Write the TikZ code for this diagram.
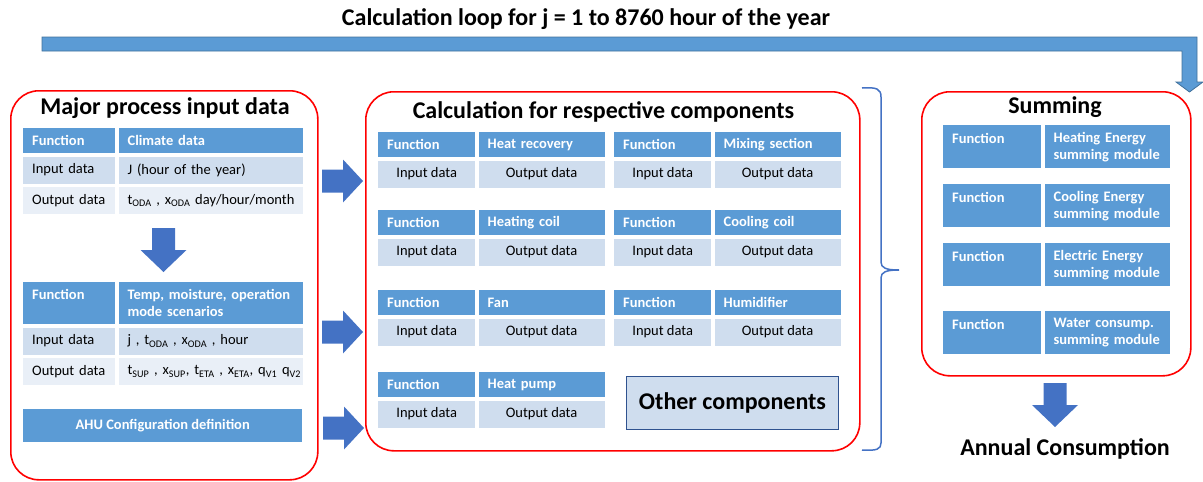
\documentclass[tikz,border=0pt]{standalone}
\usepackage{fontspec}
\setmainfont{Carlito}
\usetikzlibrary{positioning}
\hyphenpenalty=10000
\exhyphenpenalty=10000

\definecolor{hdrblue}{HTML}{5B9BD5}
\definecolor{bandone}{HTML}{CFDDEE}
\definecolor{bandtwo}{HTML}{E9EFF7}
\definecolor{arrowblue}{HTML}{4472C4}
\definecolor{loopedge}{HTML}{41719C}
\definecolor{otheredge}{HTML}{2F528F}

\tikzset{
  panel/.style={draw=red, line width=1.6pt, rounded corners=28pt, anchor=north west},
  paneltitle/.style={font=\bfseries\fontsize{24}{28}\selectfont, anchor=base},
  cellsize/.style 2 args={minimum width=#1pt, minimum height=#2pt, inner sep=0pt, anchor=north west},
  cellfont/.style={font=\fontsize{14.5}{17}\selectfont},
  hcell/.code 2 args={\pgfmathsetmacro\cellw{#1-18}%
    \tikzset{cellsize={#1}{#2}, fill=hdrblue, text=white, font=\bfseries\fontsize{14.5}{17}\selectfont,
      text width=\cellw pt, align=left, inner xsep=9pt}},
  lcell/.code 2 args={\pgfmathsetmacro\cellw{#1-18}%
    \tikzset{cellsize={#1}{#2}, cellfont, text width=\cellw pt, align=left, inner xsep=9pt}},
  ccell/.style 2 args={cellsize={#1}{#2}, fill=bandone, cellfont},
  blockarrow/.style={fill=arrowblue},
  bracestyle/.style={draw=arrowblue, line width=1.5pt}
}

% block arrows
\newcommand{\rightblock}[2]{\fill[blockarrow] (#1,#2) ++(0,-11.5) -- ++(21,0) -- ++(0,-10) -- ++(20,21.5) -- ++(-20,21.5) -- ++(0,-10) -- ++(-21,0) -- cycle;}
\newcommand{\downblock}[2]{\fill[blockarrow] (#1,#2) ++(-11.5,0) -- ++(0,22) -- ++(-11.5,0) -- ++(23,22) -- ++(23,-22) -- ++(-11.5,0) -- ++(0,-22) -- cycle;}

% component table: name, x, y, component
\newcommand{\comptable}[4]{%
  \node[hcell={97}{25}] (#1-fn) at (#2,#3) {Function};
  \node[hcell={126}{25}, right=3pt of #1-fn.north east, anchor=north west] (#1-nm) {#4};
  \node[ccell={97}{27}, below=3pt of #1-fn.south west, anchor=north west] (#1-in) {Input data};
  \node[ccell={126}{27}, below=3pt of #1-nm.south west, anchor=north west] (#1-out) {Output data};
}

% summing table: name, y, line one, line two
\newcommand{\sumtable}[4]{%
  \node[hcell={98}{43}] (#1-fn) at (943,#2) {Function\\\mbox{}};
  \node[hcell={125}{43}, right=3pt of #1-fn.north east, anchor=north west] (#1-nm) {\mbox{#3}\\\mbox{#4}};
}

\begin{document}
\begin{tikzpicture}[x=1pt, y=-1pt]
\useasboundingbox (0,0) rectangle (1203,482);

%lazo de calculo
\node[font=\bfseries\fontsize{24}{28}\selectfont, anchor=base] (looptitle) at (586,25) {Calculation loop for j = 1 to 8760 hour of the year};
\filldraw[fill=hdrblue, draw=loopedge, line width=0.8pt] (42,37) -- (1197,37) -- (1197,82) -- (1203,82) -- (1189.5,92) -- (1176,82) -- (1182,82) -- (1182,51) -- (42,51) -- cycle;

%datos de entrada
\node[panel, minimum width=307pt, minimum height=389pt] (inpanel) at (10,90) {};
\node[paneltitle] (intitle) at (165,114) {Major process input data};
	%clima
	\node[hcell={92}{25}] (clim-fn) at (23,128) {Function};
	\node[hcell={184}{25}, right=3pt of clim-fn.north east, anchor=north west] (clim-nm) {Climate data};
	\node[lcell={92}{27}, fill=bandone, below=3pt of clim-fn.south west, anchor=north west] (clim-inl) {\mbox{Input data}};
	\node[lcell={184}{27}, fill=bandone, below=3pt of clim-nm.south west, anchor=north west] (clim-inr) {J (hour of the year)};
	\node[lcell={92}{27}, fill=bandtwo, below=3pt of clim-inl.south west, anchor=north west] (clim-outl) {\mbox{Output data}};
	\node[lcell={184}{27}, fill=bandtwo, below=3pt of clim-inr.south west, anchor=north west] (clim-outr) {\mbox{t\textsubscript{ODA} , x\textsubscript{ODA} day/hour/month}};
	\downblock{163.5}{228}
	%escenarios
	\node[hcell={92}{42}] (scen-fn) at (23,282) {Function\\\mbox{}};
	\node[hcell={184}{42}, right=3pt of scen-fn.north east, anchor=north west] (scen-nm) {\mbox{Temp, moisture, operation}\\mode scenarios};
	\node[lcell={92}{27}, fill=bandone, below=3pt of scen-fn.south west, anchor=north west] (scen-inl) {\mbox{Input data}};
	\node[lcell={184}{27}, fill=bandone, below=3pt of scen-nm.south west, anchor=north west] (scen-inr) {\mbox{j , t\textsubscript{ODA} , x\textsubscript{ODA} , hour}};
	\node[lcell={92}{27}, fill=bandtwo, below=3pt of scen-inl.south west, anchor=north west] (scen-outl) {\mbox{Output data}};
	\node[lcell={184}{27}, fill=bandtwo, below=3pt of scen-inr.south west, anchor=north west] (scen-outr) {\mbox{t\textsubscript{SUP} , x\textsubscript{SUP}, t\textsubscript{ETA} , x\textsubscript{ETA}, q\textsubscript{V1} q\textsubscript{V2}}};
	%configuracion
	\node[cellsize={279}{33}, fill=hdrblue, text=white, font=\bfseries\fontsize{14.5}{17}\selectfont] (ahu) at (23,409) {AHU Configuration definition};

%flechas
\rightblock{322}{181}
\rightblock{322}{332}
\rightblock{323}{428}

%componentes
\node[panel, minimum width=494pt, minimum height=359pt] (calcpanel) at (365,91) {};
\node[paneltitle] (calctitle) at (603.5,118) {Calculation for respective components};
	\comptable{hr}{378}{132}{Heat recovery}
	\comptable{mix}{614}{132}{Mixing section}
	\comptable{hc}{378}{210}{Heating coil}
	\comptable{cc}{614}{210}{Cooling coil}
	\comptable{fan}{378}{290}{Fan}
	\comptable{hum}{614}{290}{Humidifier}
	\comptable{hp}{378}{372}{Heat pump}
	\node[cellsize={212}{53}, fill=bandone, draw=otheredge, line width=1pt, font=\bfseries\fontsize{24}{28}\selectfont] (other) at (626,376) {Other components};

%llave
\draw[bracestyle] (862,88) .. controls (877,87) and (881,89) .. (881,97) -- (881,262) .. controls (881,268) and (886,270) .. (899,270) .. controls (886,270) and (881,272) .. (881,278) -- (881,443) .. controls (881,449) and (877,451) .. (862,450);

%suma
\node[panel, minimum width=269pt, minimum height=284pt] (sumpanel) at (921,91) {};
\node[paneltitle] (sumtitle) at (1055,113) {Summing};
	\sumtable{heat}{125}{Heating Energy}{summing module}
	\sumtable{cool}{184}{Cooling Energy}{summing module}
	\sumtable{elec}{243}{Electric Energy}{summing module}
	\sumtable{water}{311}{Water consump.}{summing module}
\downblock{1055}{383}
\node[paneltitle] (annual) at (1065,455) {Annual Consumption};
\end{tikzpicture}
\end{document}
